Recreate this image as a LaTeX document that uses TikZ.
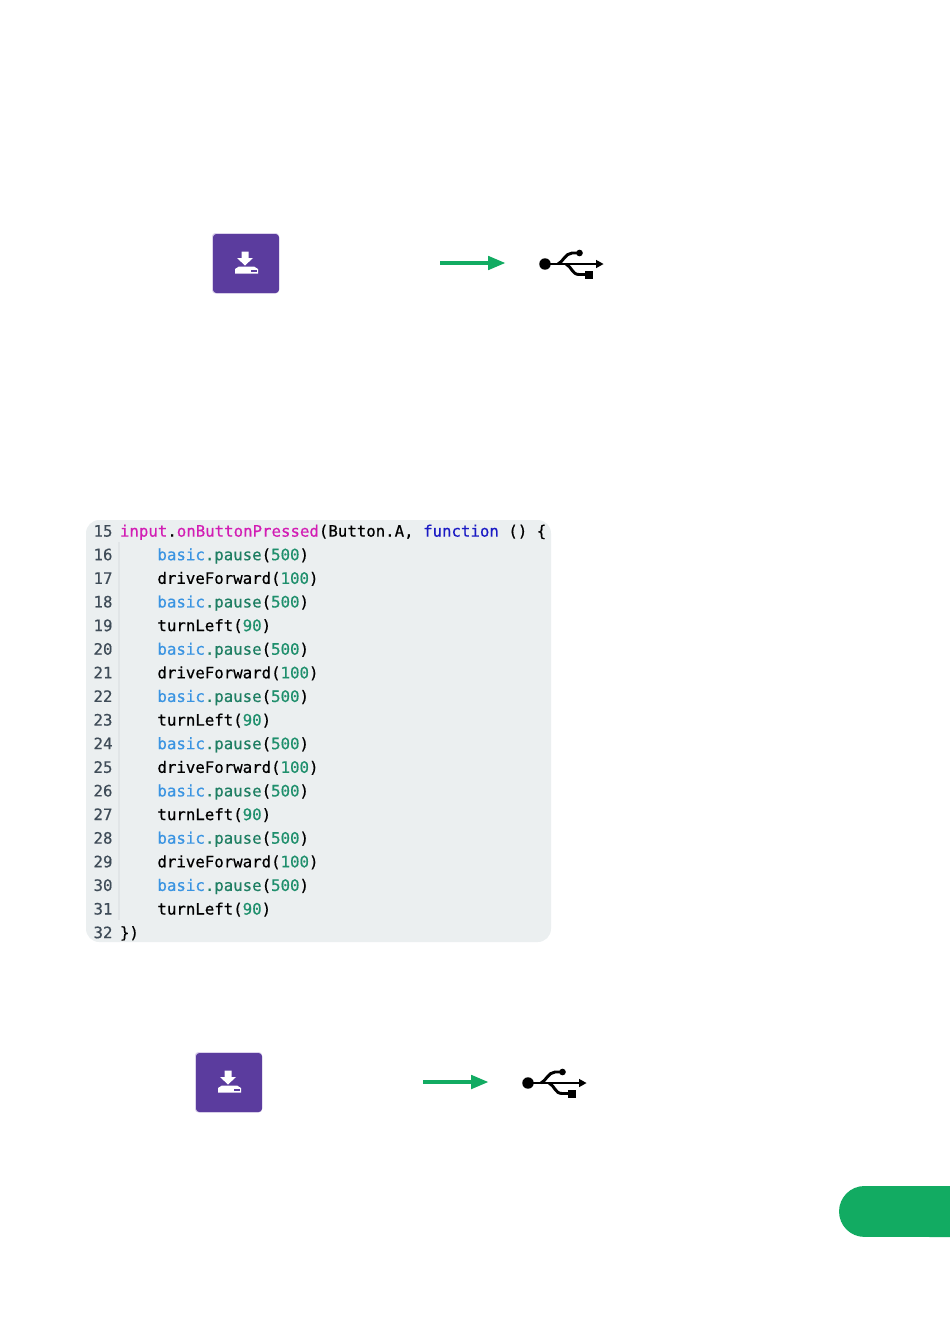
\documentclass[tikz,border=0pt]{standalone}
\usepackage{fontspec}
\newfontfamily\codefont[RawFeature={embolden=0.5}]{DejaVu Sans Mono}
\usetikzlibrary{arrows.meta}
\definecolor{panelbg}{HTML}{EBEFF0}
\definecolor{gutterline}{HTML}{E1E5E7}
\definecolor{lineno}{HTML}{3F4C58}
\definecolor{btnpurple}{HTML}{5B3C9E}
\definecolor{btnedge}{HTML}{DCD3EC}
\definecolor{pillgreen}{HTML}{12AB62}
\definecolor{cmag}{HTML}{D21DB4}
\definecolor{cblue}{HTML}{3A94E2}
\definecolor{cteal}{HTML}{1F7F63}
\definecolor{cnum}{HTML}{1E8F6C}
\definecolor{cfunc}{HTML}{1A1AC4}
\newcommand{\bp}{\textcolor{cblue}{basic}\textcolor{cteal}{.pause}(\textcolor{cnum}{500})}
\newcommand{\df}{driveForward(\textcolor{cnum}{100})}
\newcommand{\tl}{turnLeft(\textcolor{cnum}{90})}
\tikzset{
  x=0.75pt,y=-0.75pt,
  codetext/.style={anchor=base west,inner sep=0pt,outer sep=0pt,font=\codefont\fontsize{11.8}{12}\selectfont,text=black},
  numtext/.style={anchor=base east,inner sep=0pt,outer sep=0pt,font=\codefont\fontsize{11.8}{12}\selectfont,text=lineno},
  greenarrow/.style={draw=pillgreen,line width=2.7pt,-{Triangle[length=13pt,width=10pt]}},
  usbline/.style={draw=black,line width=2.2pt},
  downloadbtn/.pic={
    \fill[btnedge,rounded corners=2.5pt] (-1,-1) rectangle (66,59.5);
    \fill[btnpurple,rounded corners=2.5pt] (0,0) rectangle (66,59);
    \fill[white] (28.5,17.5) -- (35.5,17.5) -- (35.5,24) -- (40,24) -- (32,31.5) -- (24,24) -- (28.5,24) -- cycle;
    \fill[white] (22,39.5) -- (22,35) -- (26,32.5) -- (41,32.5) -- (45,35) -- (45,39.5) -- cycle;
    \fill[btnpurple] (37.5,35.5) rectangle (43.5,37.8);
  },
  usbicon/.pic={
    \fill (0,0) circle (4.3pt);
    \draw[usbline] (0,0) -- (53,0);
    \fill (51,-4.2) -- (58.5,0) -- (51,4.2) -- cycle;
    \draw[usbline] (13,0) .. controls (18,-2) and (20,-10.5) .. (27,-11) -- (34,-11);
    \fill (34.5,-11) circle (2.5pt);
    \draw[usbline] (21,0) .. controls (27,3) and (27,10.5) .. (34,10.5) -- (40,10.5);
    \fill (39.5,7) rectangle (47.5,14.5);
  }
}
\begin{document}
\begin{tikzpicture}
\useasboundingbox (0,0) rectangle (950,1318);
\fill[white] (0,0) rectangle (950,1318);
% top row
\pic at (213,234) {downloadbtn};
\coordinate (a1s) at (440,263);
\coordinate (a1e) at (505.5,263);
\draw[greenarrow] (a1s) -- (a1e);
\pic at (545,264) {usbicon};
% code panel
\fill[panelbg,rounded corners=10pt] (86,520) rectangle (551,942);
\draw[gutterline,line width=0.8pt] (119,542) -- (119,920);
\foreach \n/\t [count=\i from 0] in {
 15/{\textcolor{cmag}{input}.\textcolor{cmag}{onButtonPressed}(Button.A, \textcolor{cfunc}{function} () \{},
 16/{\hspace*{28.1pt}\bp},
 17/{\hspace*{28.1pt}\df},
 18/{\hspace*{28.1pt}\bp},
 19/{\hspace*{28.1pt}\tl},
 20/{\hspace*{28.1pt}\bp},
 21/{\hspace*{28.1pt}\df},
 22/{\hspace*{28.1pt}\bp},
 23/{\hspace*{28.1pt}\tl},
 24/{\hspace*{28.1pt}\bp},
 25/{\hspace*{28.1pt}\df},
 26/{\hspace*{28.1pt}\bp},
 27/{\hspace*{28.1pt}\tl},
 28/{\hspace*{28.1pt}\bp},
 29/{\hspace*{28.1pt}\df},
 30/{\hspace*{28.1pt}\bp},
 31/{\hspace*{28.1pt}\tl},
 32/{\})}}
{
  \pgfmathsetmacro{\yy}{536.6+\i*23.62}
  \node[numtext] (num\n) at (112.5,\yy) {\n};
  \node[codetext] (code\n) at (120,\yy) {\t};
}
% bottom row
\pic at (196,1053) {downloadbtn};
\coordinate (a2s) at (423,1082);
\coordinate (a2e) at (488.5,1082);
\draw[greenarrow] (a2s) -- (a2e);
\pic at (528,1083) {usbicon};
% page tab
\fill[pillgreen] (950,1186) -- (864.5,1186) arc[start angle=90,end angle=270,radius=19.1pt] -- (950,1237) -- cycle;
\end{tikzpicture}
\end{document}
